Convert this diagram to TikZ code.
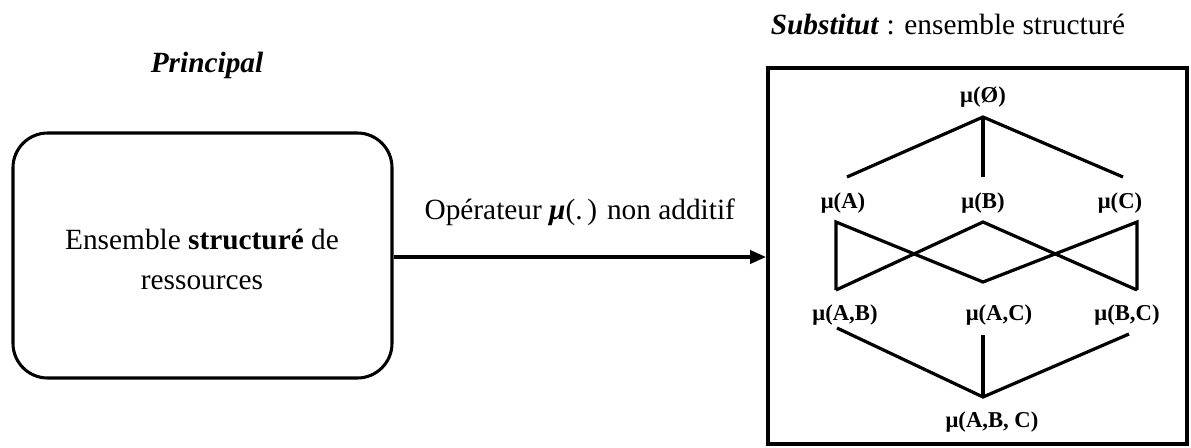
\documentclass[tikz,border=0pt]{standalone}
\usepackage{fontspec}
\setmainfont{Liberation Serif}
\usetikzlibrary{arrows.meta}
\begin{document}
\begin{tikzpicture}[x=0.75pt,y=-0.75pt,
  big/.style={font=\fontsize{22}{26}\selectfont, inner sep=0pt},
  lab/.style={font=\fontsize{17}{20}\selectfont\bfseries, inner sep=0pt},
  edge/.style={line width=2.4pt},
  frame/.style={draw, line width=3pt}]
\useasboundingbox (0,0) rectangle (1191,447);
\node[big] (principal) at (207,65) {\textbf{\textit{Principal}}};
\node[draw, line width=2.3pt, rounded corners=26pt, minimum width=379*0.75pt, minimum height=245*0.75pt] (res) at (202.5,255.5) {};
\node[big, align=center] (restext) at (202,259) {Ensemble \textbf{structuré} de\\[4pt]ressources};
\node[big] (subst) at (948,25) {\textbf{\textit{Substitut}} : ensemble structuré};
\draw[frame] (768,68) rectangle (1187,444);
\coordinate (boxin) at (766,257);
\draw[line width=2.3pt, -{Triangle[length=12pt,width=10pt]}] (res.east |- boxin) -- (boxin) node[midway, above=22pt, big] (op) {Opérateur \textbf{\textit{μ}}(.\,) non additif};
% labels
\node[lab] (e) at (983,97) {μ(Ø)};
\node[lab] (a) at (843,203) {μ(A)};
\node[lab] (b) at (983,203) {μ(B)};
\node[lab] (c) at (1120,203) {μ(C)};
\node[lab] (ab) at (845,315) {μ(A,B)};
\node[lab] (ac) at (999,315) {μ(A,C)};
\node[lab] (bc) at (1127,315) {μ(B,C)};
\node[lab] (abc) at (992,422) {μ(A,B, C)};
% anchor points
\coordinate (e0) at (983,117);
\coordinate (a1) at (847,177);
\coordinate (b1) at (983,177);
\coordinate (c1) at (1123,177);
\coordinate (a2) at (836,222);
\coordinate (b2) at (983,222);
\coordinate (c2) at (1137,222);
\coordinate (ab2) at (836,290);
\coordinate (ac2) at (983,282);
\coordinate (bc2) at (1137,290);
\coordinate (ab3) at (837,328);
\coordinate (ac3) at (983,335);
\coordinate (bc3) at (1129,334);
\coordinate (abc0) at (983,397);
\draw[edge] (a1) -- (e0) -- (c1);
\draw[edge] (e0) -- (b1);
\draw[edge] (ab2) -- (a2) -- (ac2) -- (c2) -- (bc2);
\draw[edge] (ab2) -- (b2) -- (bc2);
\draw[edge] (ab3) -- (abc0) -- (bc3);
\draw[edge] (ac3) -- (abc0);
\end{tikzpicture}
\end{document}
